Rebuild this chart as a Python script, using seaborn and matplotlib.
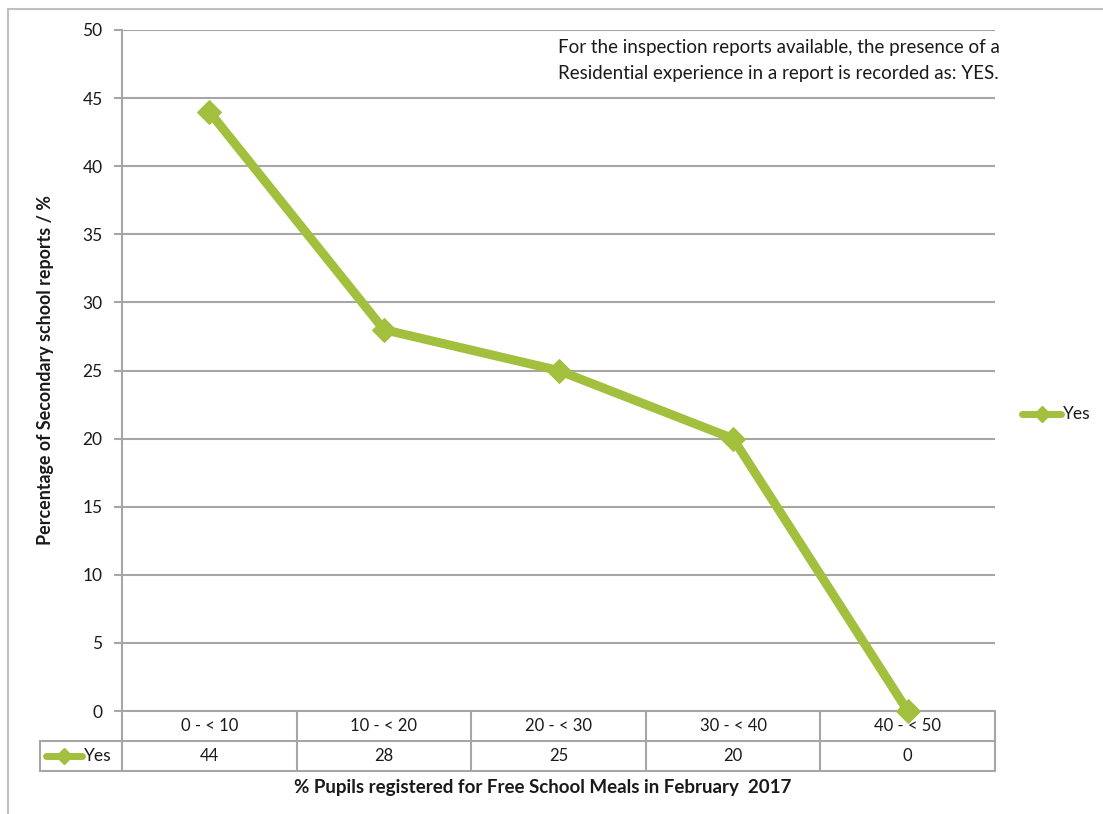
import matplotlib
matplotlib.use("Agg")
import matplotlib.pyplot as plt
import matplotlib.transforms as mtransforms
from matplotlib.lines import Line2D
import seaborn as sns
import pandas as pd

# Free School Meals bands and share of reports recording a residential experience
fsm_bands = ["0 - < 10", "10 - < 20", "20 - < 30", "30 - < 40", "40 - < 50"]
yes_values = [44, 28, 25, 20, 0]
series_name = "Yes"
y_ticks = [0, 5, 10, 15, 20, 25, 30, 35, 40, 45, 50]

df = pd.DataFrame({"band": fsm_bands, "pct": yes_values})
df["pos"] = range(len(fsm_bands))

sns.set_theme(style="white")
plt.rcParams["font.family"] = ["Lato", "DejaVu Sans"]

GREEN = "#A2C03D"
GRID = "#A6A6A6"
TXT = "#1a1a1a"

W, H = 1103, 814
fig = plt.figure(figsize=(W / 100, H / 100), dpi=100)
ax = fig.add_axes([122 / W, 1 - 711 / H, 873 / W, (711 - 30) / H])

sns.lineplot(data=df, x="pos", y="pct", ax=ax, color=GREEN, linewidth=6.5,
             marker="D", markersize=12, markeredgecolor=GREEN, zorder=5,
             solid_joinstyle="miter", clip_on=False)

ax.set_xlim(-0.5, len(fsm_bands) - 0.5)
ax.set_ylim(0, 50)
ax.set_yticks(y_ticks)
ax.set_yticklabels([str(t) for t in y_ticks], fontsize=12.5, color=TXT)
ax.set_xticks([])
ax.set_xlabel("")
ax.set_ylabel("")
ax.grid(axis="y", color=GRID, linewidth=1.5)
ax.set_axisbelow(True)
for s in ["top", "right", "bottom"]:
    ax.spines[s].set_visible(False)
ax.spines["left"].set_color(GRID)
ax.spines["left"].set_linewidth(1.5)
ax.tick_params(axis="y", length=6, width=1.5, color=GRID, pad=8, left=True)

# Data table below the plot area
pix = mtransforms.blended_transform_factory(ax.transData, fig.transFigure)


def fy(y):
    return 1 - y / H


row_top, row_mid, row_bot = 711, 741, 771
n = len(fsm_bands)
bounds = [i - 0.5 for i in range(n + 1)]
line_kw = dict(color=GRID, linewidth=1.5, clip_on=False)
# horizontal rules
for yy in (row_top, row_mid, row_bot):
    ax.add_line(Line2D([bounds[0], bounds[-1]], [fy(yy)] * 2, transform=pix, **line_kw))
fig.add_artist(Line2D([40 / W, 122 / W], [fy(row_mid)] * 2, color=GRID, linewidth=1.5))
fig.add_artist(Line2D([40 / W, 122 / W], [fy(row_bot)] * 2, color=GRID, linewidth=1.5))
fig.add_artist(Line2D([40 / W, 40 / W], [fy(row_mid), fy(row_bot)], color=GRID, linewidth=1.5))
# vertical rules
for b in bounds:
    ax.add_line(Line2D([b, b], [fy(row_top), fy(row_bot)], transform=pix, **line_kw))

for i, (band, val) in enumerate(zip(fsm_bands, yes_values)):
    ax.text(i, fy((row_top + row_mid) / 2), band, transform=pix, ha="center",
            va="center", fontsize=12, color=TXT)
    ax.text(i, fy((row_mid + row_bot) / 2), str(val), transform=pix, ha="center",
            va="center", fontsize=12, color=TXT)

# legend key inside the table
fig.add_artist(Line2D([46 / W, 82 / W], [fy(756)] * 2, color=GREEN, linewidth=5,
                      solid_capstyle="round"))
fig.add_artist(Line2D([64 / W], [fy(756)], color=GREEN, marker="D", markersize=8,
                      linestyle="none"))
fig.text(84 / W, fy(756), series_name, ha="left", va="center", fontsize=12.5, color=TXT)

# legend on the right
fig.add_artist(Line2D([1022 / W, 1061 / W], [fy(414)] * 2, color=GREEN, linewidth=5,
                      solid_capstyle="round"))
fig.add_artist(Line2D([1042 / W], [fy(414)], color=GREEN, marker="D", markersize=8,
                      linestyle="none"))
fig.text(1063 / W, fy(414), series_name, ha="left", va="center", fontsize=12.5, color=TXT)

# axis titles
fig.text(45 / W, fy(370), "Percentage of Secondary school reports / %", rotation=90,
         ha="center", va="center", fontsize=12.9, fontweight="bold", color=TXT)
fig.text(543 / W, fy(787), "% Pupils registered for Free School Meals in February  2017",
         ha="center", va="center", fontsize=13.5, fontweight="bold", color=TXT)

# note
fig.text(558 / W, fy(47), "For the inspection reports available, the presence of a",
         ha="left", va="center", fontsize=13.5, color=TXT)
fig.text(558 / W, fy(74), "Residential experience in a report is recorded as: YES.",
         ha="left", va="center", fontsize=13.5, color=TXT)

# chart area frame
fig.add_artist(Line2D([8 / W, 8 / W], [0, fy(9)], color="#BFBFBF", linewidth=1.5))
fig.add_artist(Line2D([8 / W, 1], [fy(9), fy(9)], color="#BFBFBF", linewidth=1.5))

fig.savefig("out.png", dpi=100)
